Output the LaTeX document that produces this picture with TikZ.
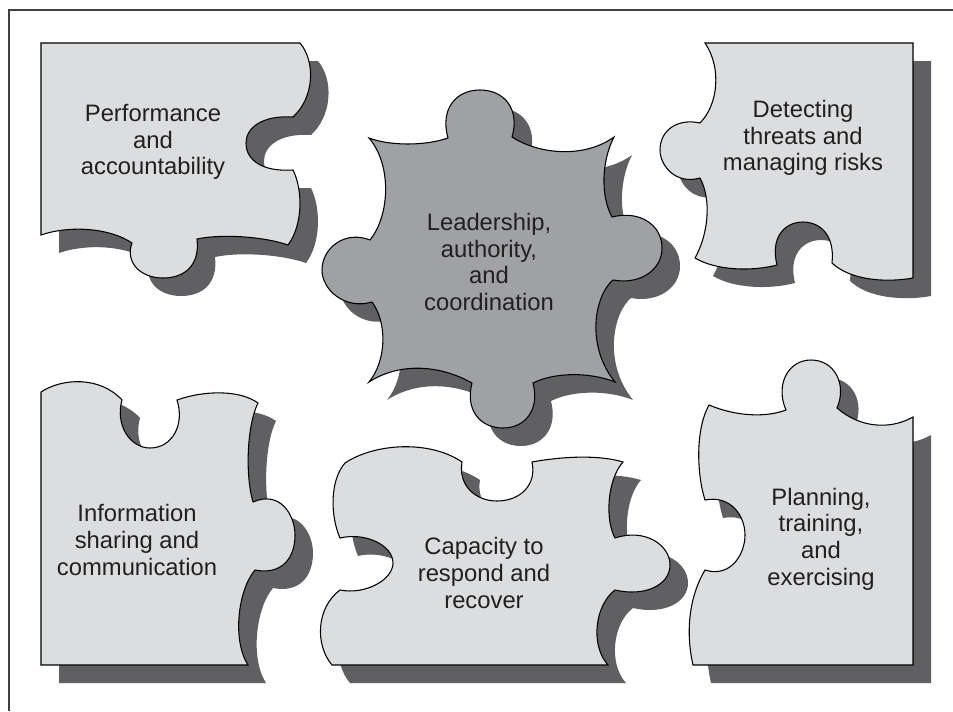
\documentclass[tikz,border=0pt]{standalone}
\usepackage{fontspec}
\setmainfont{Liberation Sans}
\usepackage{tikz}
\usepackage{xcolor}

\definecolor{piecegray}{HTML}{DCDDDF}
\definecolor{hubgray}{HTML}{A0A1A4}
\definecolor{shadegray}{HTML}{606062}
\definecolor{inkgray}{HTML}{231F20}

\tikzset{
  dropshade/.style={fill=shadegray, shift={(18,18)}},
  piece/.style={fill=piecegray, draw=black, line width=0.8pt},
  hub/.style={piece, fill=hubgray},
  caption/.style={align=center, text=inkgray, font=\fontsize{17.85}{20}\selectfont},
  frame/.style={draw=black!75, line width=1.1pt}
}

\begin{document}
\begin{tikzpicture}[x=0.75pt, y=-0.75pt]
        \useasboundingbox (0,0) rectangle (953,711);
        \draw[frame] (953,10) -- (9,10) -- (9,711);
        \foreach \st / \hubst in {dropshade/dropshade, piece/hub} {
            \path[\st] (41,43) -- (300,43)
              .. controls (316,62) and (314,98) .. (293,117)
              .. controls (262,115) and (246,128) .. (246,143)
              .. controls (246,160) and (262,172) .. (293,170)
              .. controls (303,190) and (303,225) .. (288,245)
              .. controls (262,236) and (220,234) .. (197,239)
              .. controls (200,265) and (185,278) .. (163,278)
              .. controls (140,278) and (125,262) .. (132,243)
              .. controls (110,228) and (70,225) .. (41,235)
              -- cycle;
            \path[\hubst] (369,138)
              .. controls (390,146) and (425,146) .. (448,138)
              .. controls (440,110) and (455,90) .. (480,90)
              .. controls (505,90) and (520,110) .. (512,137)
              .. controls (540,155) and (585,158) .. (614,137)
              .. controls (602,160) and (600,195) .. (612,217)
              .. controls (640,210) and (662,225) .. (662,248)
              .. controls (662,270) and (640,285) .. (613,280)
              .. controls (595,295) and (585,345) .. (615,382)
              .. controls (590,372) and (555,372) .. (533,383)
              .. controls (540,410) and (525,428) .. (503,428)
              .. controls (480,428) and (465,410) .. (472,383)
              .. controls (440,365) and (400,362) .. (369,382)
              .. controls (387,360) and (387,322) .. (372,302)
              .. controls (345,310) and (322,290) .. (322,270)
              .. controls (322,248) and (345,230) .. (370,240)
              .. controls (390,215) and (392,165) .. (369,138)
              -- cycle;
            \path[\st] (705,43) -- (913,43) -- (913,278)
              .. controls (885,283) and (850,280) .. (832,263)
              .. controls (835,235) and (820,222) .. (803,222)
              .. controls (785,222) and (770,237) .. (777,265)
              .. controls (750,272) and (715,270) .. (695,258)
              .. controls (708,235) and (712,200) .. (700,178)
              .. controls (675,185) and (660,165) .. (660,150)
              .. controls (660,130) and (678,118) .. (700,123)
              .. controls (718,105) and (722,68) .. (705,43)
              -- cycle;
            \path[\st] (41,392)
              .. controls (62,378) and (100,376) .. (122,400)
              .. controls (115,425) and (130,448) .. (150,448)
              .. controls (172,448) and (185,425) .. (177,400)
              .. controls (205,390) and (240,390) .. (258,403)
              .. controls (247,425) and (245,475) .. (253,502)
              .. controls (280,490) and (295,515) .. (295,535)
              .. controls (295,560) and (280,575) .. (255,570)
              .. controls (238,590) and (232,640) .. (248,665)
              -- (41,665) -- cycle;
            \path[\st] (345,463)
              .. controls (375,443) and (430,440) .. (462,462)
              .. controls (458,485) and (475,501) .. (497,501)
              .. controls (520,501) and (537,485) .. (532,462)
              .. controls (565,456) and (600,455) .. (623,462)
              .. controls (607,480) and (605,520) .. (615,538)
              .. controls (645,528) and (670,545) .. (670,565)
              .. controls (670,585) and (645,597) .. (615,590)
              .. controls (595,605) and (590,645) .. (608,665)
              -- (332,665)
              .. controls (315,645) and (316,608) .. (340,590)
              .. controls (365,595) and (393,580) .. (393,563)
              .. controls (393,545) and (365,532) .. (340,538)
              .. controls (330,515) and (330,480) .. (345,463)
              -- cycle;
            \path[\st] (709,405)
              .. controls (735,416) and (765,418) .. (786,410)
              .. controls (775,385) and (788,360) .. (811,360)
              .. controls (835,360) and (847,385) .. (837,408)
              .. controls (860,428) and (890,430) .. (913,417)
              -- (913,665) -- (693,665)
              .. controls (685,630) and (690,595) .. (705,570)
              .. controls (730,578) and (745,555) .. (745,535)
              .. controls (745,515) and (730,495) .. (705,500)
              .. controls (697,475) and (695,430) .. (709,405)
              -- cycle;
        };
        \node[caption] (perf) at (153,142) {Performance\\and\\accountability};
        \node[caption] (lead) at (489,262) {Leadership,\\authority,\\and\\coordination};
        \node[caption] (detect) at (803,138) {Detecting\\threats and\\managing risks};
        \node[caption] (info) at (137,540) {Information\\sharing and\\communication};
        \node[caption] (capacity) at (484,573) {Capacity to\\respond and\\recover};
        \node[caption] (plan) at (821,539) {Planning,\\training,\\and\\exercising};
    \end{tikzpicture}
\end{document}
